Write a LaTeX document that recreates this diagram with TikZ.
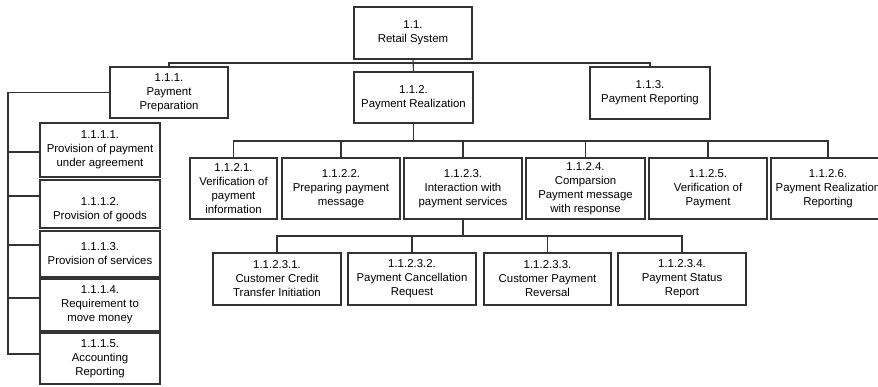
\documentclass[tikz,border=0pt]{standalone}
\usepackage{fontspec}
\setmainfont{Liberation Sans}
\begin{document}
\begin{tikzpicture}[x=1pt,y=-1pt,
  box/.style={draw=black!80, line width=1.1pt, rectangle, inner sep=0pt,
    align=center, text=black, font=\fontsize{11.4}{14}\selectfont},
  link/.style={draw=black!80, line width=1.1pt}]
\useasboundingbox (0,0) rectangle (878,386);
\clip (0,0) rectangle (878,386);

% level 1
\node[box, minimum width=118pt, minimum height=52pt] (root) at (413,33) {1.1.\\Retail System};

% level 2
\node[box, minimum width=118pt, minimum height=51pt] (n111) at (169,92.5) {1.1.1.\\Payment\\Preparation};
\node[box, minimum width=119pt, minimum height=51pt] (n112) at (413.5,97.5) {1.1.2.\\Payment Realization};
\node[box, minimum width=120pt, minimum height=52pt] (n113) at (650,93) {1.1.3.\\Payment Reporting};

% children of 1.1.1
\node[box, minimum width=120pt, minimum height=54pt] (n1111) at (100,150) {1.1.1.1.\\Provision of payment\\under agreement};
\node[box, minimum width=120pt, minimum height=48pt] (n1112) at (100,204) {\vphantom{1}\\[-3pt]1.1.1.2.\\Provision of goods};
\node[box, minimum width=120pt, minimum height=46pt] (n1113) at (100,254) {1.1.1.3.\\Provision of services};
\node[box, minimum width=120pt, minimum height=52pt] (n1114) at (100,305) {1.1.1.4.\\Requirement to\\move money};
\node[box, minimum width=120pt, minimum height=51pt] (n1115) at (100,358.5) {1.1.1.5.\\Accounting\\Reporting};

% children of 1.1.2
\node[box, minimum width=87pt,  minimum height=61pt] (n1121) at (233.5,188.5) {1.1.2.1.\\Verification of\\payment\\information};
\node[box, minimum width=118pt, minimum height=61pt] (n1122) at (341,188.5) {1.1.2.2.\\Preparing payment\\message};
\node[box, minimum width=118pt, minimum height=61pt] (n1123) at (463,188.5) {1.1.2.3.\\Interaction with\\payment services};
\node[box, minimum width=119pt, minimum height=61pt] (n1124) at (585.5,188.5) {1.1.2.4.\\Comparsion\\Payment message\\with response};
\node[box, minimum width=118pt, minimum height=61pt] (n1125) at (708,188.5) {1.1.2.5.\\Verification of\\Payment};
\node[box, minimum width=114pt, minimum height=61pt] (n1126) at (828,188.5) {1.1.2.6.\\Payment Realization\\Reporting};

% children of 1.1.2.3
\node[box, minimum width=128pt, minimum height=52pt] (n11231) at (277,279) {1.1.2.3.1.\\Customer Credit\\Transfer Initiation};
\node[box, minimum width=128pt, minimum height=52pt] (n11232) at (412,279) {1.1.2.3.2.\\Payment Cancellation\\Request};
\node[box, minimum width=127pt, minimum height=52pt] (n11233) at (547.5,279) {1.1.2.3.3.\\Customer Payment\\Reversal};
\node[box, minimum width=128pt, minimum height=52pt] (n11234) at (682,279) {1.1.2.3.4.\\Payment Status\\Report};

% junctions
\coordinate (j1) at (413,63);
\coordinate (spine) at (8,92.5);
\coordinate (j2) at (413.5,141);
\coordinate (j3) at (463,236);

% root to level 2
\draw[link] (root.south) -- (n112.north);
\draw[link] (n111.north) |- (j1) -| (n113.north);

% 1.1.1 to its children (left spine)
\draw[link] (n111.west) -- (spine) |- ([yshift=4.5pt]n1115.west);
\draw[link] (spine) |- ([yshift=-2pt]n1111.west);
\draw[link] (spine) |- ([yshift=8pt]n1112.west);
\draw[link] (spine) |- ([yshift=9pt]n1113.west);
\draw[link] (spine) |- ([yshift=7pt]n1114.west);

% 1.1.2 to its children
\draw[link] (n112.south) -- (j2);
\draw[link] (n1121.north) |- (j2) -| (n1126.north);
\draw[link] (n1122.north) -- (n1122.north |- j2);
\draw[link] (n1123.north) -- (n1123.north |- j2);
\draw[link] (n1124.north) -- (n1124.north |- j2);
\draw[link] (n1125.north) -- (n1125.north |- j2);

% 1.1.2.3 to its children
\draw[link] (n1123.south) -- (j3);
\draw[link] (n11231.north) |- (j3) -| (n11234.north);
\draw[link] (n11232.north) -- (n11232.north |- j3);
\draw[link] (n11233.north) -- (n11233.north |- j3);
\end{tikzpicture}
\end{document}
